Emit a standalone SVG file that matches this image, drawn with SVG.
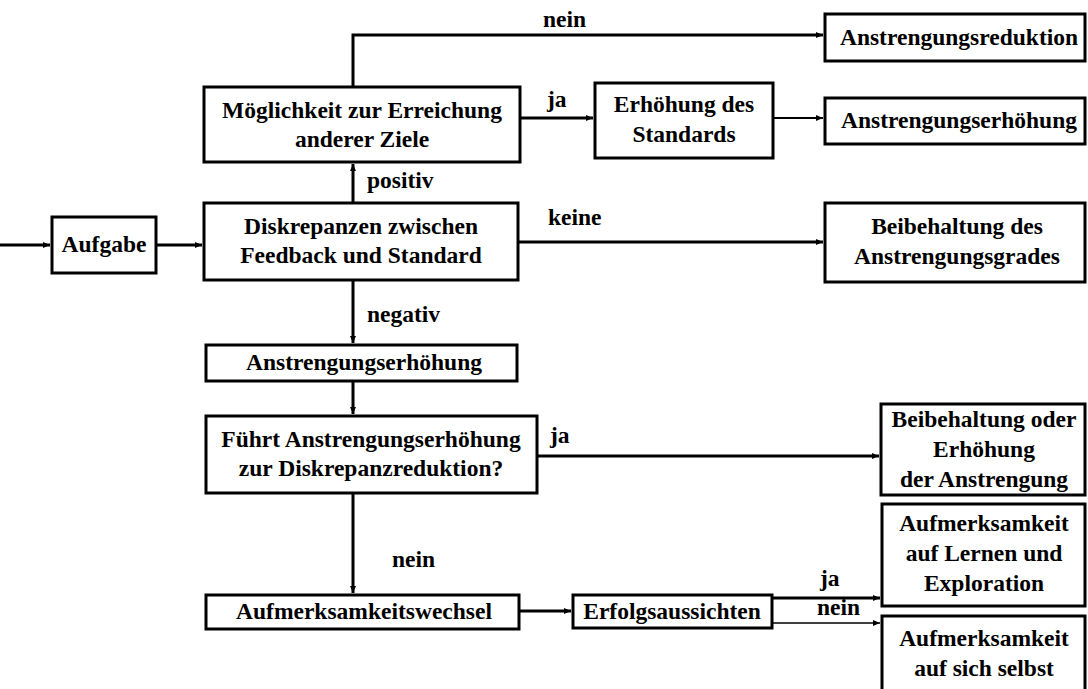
<svg xmlns="http://www.w3.org/2000/svg" width="1088" height="689" viewBox="0 0 1088 689">
  <style>
    .box { fill: #fff; stroke: #000; stroke-width: 3; }
    .t { font-family: "Liberation Serif", "Times New Roman", serif; font-weight: bold; font-size: 23.5px; fill: #000; text-anchor: middle; }
    .lbl { font-family: "Liberation Serif", "Times New Roman", serif; font-weight: bold; font-size: 23.5px; fill: #000; }
    .c { fill: none; stroke: #000; stroke-width: 3; }
    .mid { fill: none; stroke: #000; stroke-width: 2; }
    .thin { fill: none; stroke: #000; stroke-width: 1.5; }
  </style>
  <defs>
    <marker id="ah" markerWidth="8" markerHeight="8" refX="7" refY="4" orient="auto" markerUnits="userSpaceOnUse">
      <path d="M0,1 L7,4 L0,7 Z" fill="#000"/>
    </marker>
  </defs>

  <!-- connectors -->
  <g id="connectors">
    <path class="c" d="M0,245 H50" marker-end="url(#ah)"/>
    <path class="c" d="M156,245 H202" marker-end="url(#ah)"/>
    <path class="c" d="M353,203 V164" marker-end="url(#ah)"/>
    <path class="c" d="M353,87 V35 H823" marker-end="url(#ah)"/>
    <path class="c" d="M520,118 H593" marker-end="url(#ah)"/>
    <path class="mid" d="M773,118 H823" marker-end="url(#ah)"/>
    <path class="c" d="M518,242 H823" marker-end="url(#ah)"/>
    <path class="c" d="M353,280 V343" marker-end="url(#ah)"/>
    <path class="c" d="M353,381 V414" marker-end="url(#ah)"/>
    <path class="c" d="M537,456 H879" marker-end="url(#ah)"/>
    <path class="c" d="M353,493 V593" marker-end="url(#ah)"/>
    <path class="c" d="M519,611 H571" marker-end="url(#ah)"/>
    <path class="c" d="M772,598 H880" marker-end="url(#ah)"/>
    <path class="thin" d="M772,623 H880" marker-end="url(#ah)"/>
  </g>

  <g id="labels">
    <text class="lbl" x="543" y="27">nein</text>
    <text class="lbl" x="547" y="107">ja</text>
    <text class="lbl" x="367" y="188">positiv</text>
    <text class="lbl" x="548" y="225">keine</text>
    <text class="lbl" x="367" y="322">negativ</text>
    <text class="lbl" x="550" y="443">ja</text>
    <text class="lbl" x="392" y="567">nein</text>
    <text class="lbl" x="820" y="586">ja</text>
    <text class="lbl" x="817" y="615">nein</text>
  </g>

  <g id="aufgabe">
    <rect class="box" x="52" y="217" width="104" height="56"/>
    <text class="t" x="104" y="252">Aufgabe</text>
  </g>
  <g id="diskrepanzen">
    <rect class="box" x="204" y="203" width="314" height="77"/>
    <text class="t" x="361" y="234">Diskrepanzen zwischen</text>
    <text class="t" x="361" y="263">Feedback und Standard</text>
  </g>
  <g id="moeglichkeit">
    <rect class="box" x="204" y="87" width="316" height="75"/>
    <text class="t" x="362" y="118">Möglichkeit zur Erreichung</text>
    <text class="t" x="362" y="147">anderer Ziele</text>
  </g>
  <g id="erhoehung-standard">
    <rect class="box" x="595" y="83" width="178" height="75"/>
    <text class="t" x="684" y="112">Erhöhung des</text>
    <text class="t" x="684" y="142">Standards</text>
  </g>
  <g id="reduktion">
    <rect class="box" x="825" y="14" width="260" height="47"/>
    <text class="t" x="959" y="45">Anstrengungsreduktion</text>
  </g>
  <g id="erhoehung-oben">
    <rect class="box" x="825" y="98" width="260" height="46"/>
    <text class="t" x="959" y="128">Anstrengungserhöhung</text>
  </g>
  <g id="beibehaltung-grad">
    <rect class="box" x="825" y="203" width="260" height="79"/>
    <text class="t" x="957" y="234">Beibehaltung des</text>
    <text class="t" x="957" y="264">Anstrengungsgrades</text>
  </g>
  <g id="erhoehung-mitte">
    <rect class="box" x="206" y="345" width="311" height="36"/>
    <text class="t" x="364" y="370">Anstrengungserhöhung</text>
  </g>
  <g id="fuehrt">
    <rect class="box" x="206" y="416" width="331" height="77"/>
    <text class="t" x="371" y="447">Führt Anstrengungserhöhung</text>
    <text class="t" x="371" y="476">zur Diskrepanzreduktion?</text>
  </g>
  <g id="beibehaltung-oder">
    <rect class="box" x="881" y="404" width="204" height="91"/>
    <text class="t" x="984" y="427">Beibehaltung oder</text>
    <text class="t" x="984" y="457">Erhöhung</text>
    <text class="t" x="984" y="487">der Anstrengung</text>
  </g>
  <g id="wechsel">
    <rect class="box" x="206" y="595" width="313" height="34"/>
    <text class="t" x="364" y="619">Aufmerksamkeitswechsel</text>
  </g>
  <g id="erfolg">
    <rect class="box" x="573" y="595" width="199" height="33"/>
    <text class="t" x="672" y="619">Erfolgsaussichten</text>
  </g>
  <g id="lernen">
    <rect class="box" x="882" y="504" width="203" height="102"/>
    <text class="t" x="984" y="531">Aufmerksamkeit</text>
    <text class="t" x="984" y="561">auf Lernen und</text>
    <text class="t" x="984" y="591">Exploration</text>
  </g>
  <g id="selbst">
    <rect class="box" x="882" y="616" width="203" height="90"/>
    <text class="t" x="984" y="646">Aufmerksamkeit</text>
    <text class="t" x="984" y="676">auf sich selbst</text>
  </g>
</svg>
